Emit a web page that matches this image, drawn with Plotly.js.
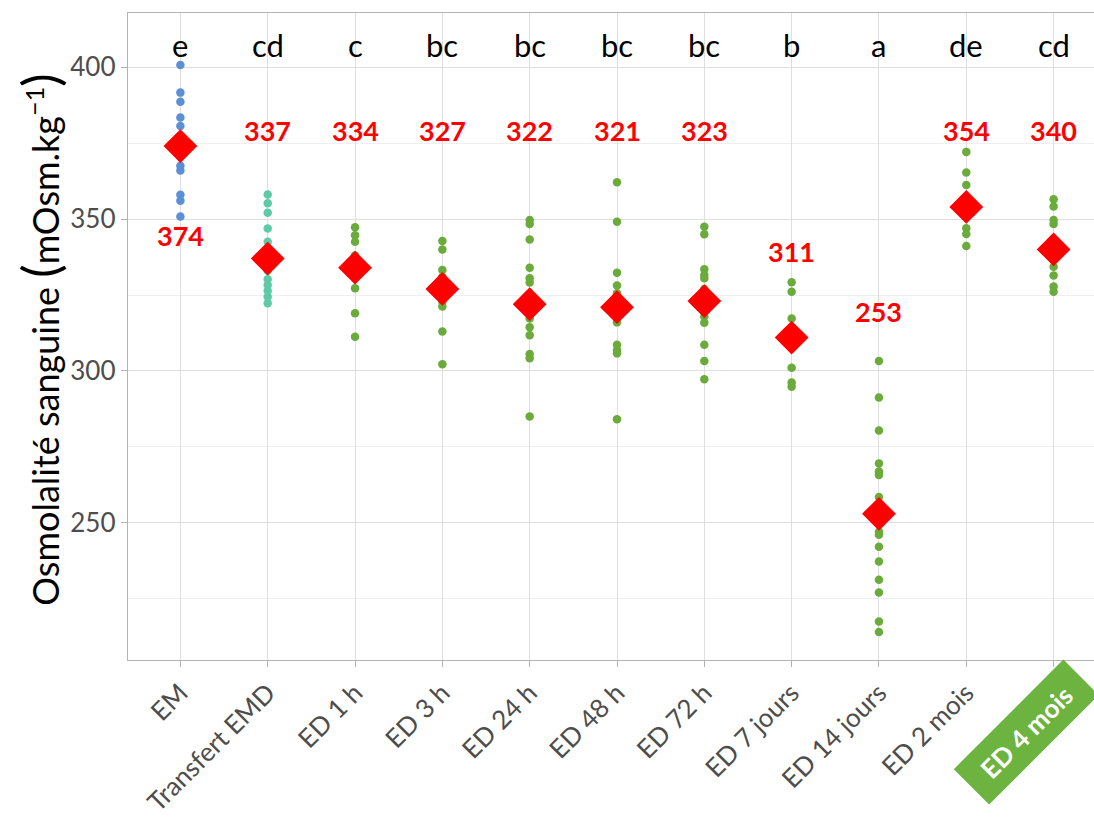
<!DOCTYPE html>
<html>
<head>
<meta charset="utf-8">
<script src="https://cdn.plot.ly/plotly-3.0.1.min.js"></script>
<style>
html,body{margin:0;padding:0;overflow:hidden;background:#fff;}
#chart{width:1106px;height:819px;}
</style>
</head>
<body>
<div id="chart"></div>
<script>
// ---- data ----
const categories = ["EM","Transfert EMD","ED 1 h","ED 3 h","ED 24 h","ED 48 h","ED 72 h","ED 7 jours","ED 14 jours","ED 2 mois","ED 4 mois"];
const valsEM = [400.7,391.6,388.6,383.4,380.6,376,372,367.5,366,358,356,350.8];
const valsTransfert = [358.1,355.2,352.1,346.9,342.5,340,335,333,330.2,328.3,326.4,324.4,322.3];
const valsED1h = [347.3,344.7,342.5,338,336,327.2,319,311.3];
const valsED3h = [342.8,340,333.2,331,330,328,322.8,321.2,313,302.2];
const valsED24h = [349.7,348.4,343.3,334,330.5,329.1,325,320,317.3,314.4,311.8,305.6,304.2,285];
const valsED48h = [362.1,349.1,332.3,328.1,325.6,318,316,308.6,306.9,305.8,284.1];
const valsED72h = [347.5,345,333.5,331.6,330.5,327,320,317.9,315.9,308.6,303.3,297.3];
const valsED7j = [329.2,326.1,317.3,312,301.1,296.2,294.8];
const valsED14j = [303.3,291.3,280.4,269.6,266.9,265.8,258.5,250,247.1,246.1,242.2,237.3,231.3,227.1,217.6,214.1];
const valsED2m = [372.1,365.3,361.2,355,350.8,347,345.1,341.1];
const valsED4m = [356.5,354.1,349.7,348.4,338,334.3,331.4,327.8,326.1];
const groupValues = [valsEM,valsTransfert,valsED1h,valsED3h,valsED24h,valsED48h,valsED72h,valsED7j,valsED14j,valsED2m,valsED4m];
const means = [374,337,334,327,322,321,323,311,253,354,340];
const letters = ["e","cd","c","bc","bc","bc","bc","b","a","de","cd"];
const tickLabels = ["EM","Transfert EMD","ED 1 h","ED 3 h","ED 24 h","ED 48 h","ED 72 h","ED 7 jours","ED 14 jours","ED 2 mois",""];
const highlightLabel = "ED 4 mois";

// ---- style ----
const pointColors = ["#5b8fd6","#5ecaa7","#6aab3c","#6aab3c","#6aab3c","#6aab3c","#6aab3c","#6aab3c","#6aab3c","#6aab3c","#6aab3c"];
const labelY = [344.7,379.3,379.3,379.3,379.3,379.3,379.3,339.2,319.5,379.3,379.3];
const FONT = "Lato, 'Open Sans', sans-serif";

const traces = [];
groupValues.forEach((vals,i)=>{
  traces.push({
    type:'scatter', mode:'markers',
    x: vals.map(()=>categories[i]), y: vals,
    marker:{color:pointColors[i], size:8.5},
    hoverinfo:'y', showlegend:false
  });
});
traces.push({
  type:'scatter', mode:'markers',
  x: categories, y: means,
  marker:{symbol:'diamond', color:'#ff0000', size:26, line:{width:0}},
  showlegend:false
});

const annotations = [];
categories.forEach((c,i)=>{
  annotations.push({x:c, y:labelY[i], xref:'x', yref:'y', text:'<b>'+means[i]+'</b>',
    showarrow:false, font:{family:FONT, size:27, color:'#ff0000'}, xanchor:'center', yanchor:'middle'});
  annotations.push({x:c, y:407.3, xref:'x', yref:'y', text:letters[i],
    showarrow:false, font:{family:FONT, size:31, color:'#000000'}, xanchor:'center', yanchor:'middle'});
});
annotations.push({
  xref:'x', yref:'paper', x:categories[10], y:0, xshift:-28, yshift:-72,
  text:'<b>'+highlightLabel+'</b>', showarrow:false, textangle:-45,
  bgcolor:'#6db33f', width:152, height:47, borderpad:1,
  font:{family:FONT, size:26, color:'#ffffff'}, xanchor:'center', yanchor:'middle'
});
annotations.push({
  xref:'paper', yref:'paper', x:(40-128)/978, y:0.495,
  text:'Osmolalité sanguine <span style="font-size:50px">(</span>mOsm.kg<sup>−1</sup><span style="font-size:50px">)</span>',
  textangle:-90, showarrow:false, font:{family:FONT, size:36, color:'#000000'},
  xanchor:'center', yanchor:'middle'
});

const layout = {
  width:1106, height:819,
  margin:{l:128, r:0, t:13, b:159},
  paper_bgcolor:'#ffffff', plot_bgcolor:'#ffffff',
  font:{family:FONT},
  xaxis:{
    type:'category', range:[-0.6,10.6],
    tickvals:categories, ticktext:tickLabels, tickangle:-45,
    tickfont:{family:FONT, size:26, color:'#4d4d4d'},
    showgrid:true, gridcolor:'#dedede', gridwidth:1,
    showline:true, linecolor:'#b3b3b3', linewidth:1.3, mirror:true,
    ticks:'outside', ticklen:6, tickcolor:'#b3b3b3', zeroline:false
  },
  yaxis:{
    range:[204.9,417.8], tick0:0, dtick:50,
    tickfont:{family:FONT, size:26, color:'#4d4d4d'},
    showgrid:true, gridcolor:'#dedede', gridwidth:1,
    minor:{dtick:25, showgrid:true, gridcolor:'#efefef', gridwidth:1, ticks:''},
    showline:true, linecolor:'#b3b3b3', linewidth:1.3, mirror:true,
    ticks:'outside', ticklen:6, tickcolor:'#b3b3b3', zeroline:false
  },
  annotations:annotations
};

Plotly.newPlot('chart', traces, layout, {displayModeBar:false, staticPlot:true});
</script>
</body>
</html>
